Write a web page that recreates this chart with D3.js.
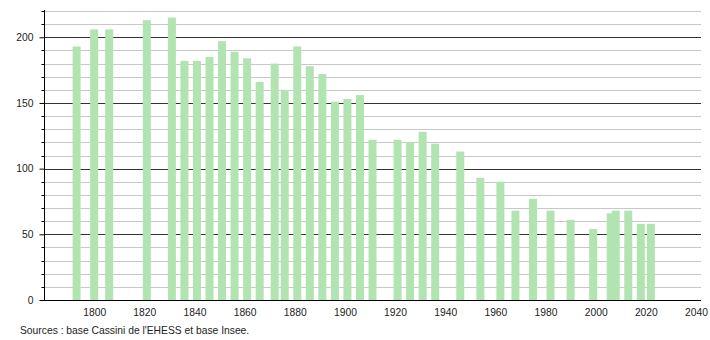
<!DOCTYPE html>
<html>
<head>
<meta charset="utf-8">
<script src="https://cdn.jsdelivr.net/npm/d3@7"></script>
<style>
  body { margin: 0; background: #fff; }
  text { font-family: "Liberation Sans", Arial, sans-serif; }
</style>
</head>
<body>
<div class="canvas"></div>
<script>
// census years and population
const years = [1793, 1800, 1806, 1821, 1831, 1836, 1841, 1846, 1851, 1856,
  1861, 1866, 1872, 1876, 1881, 1886, 1891, 1896, 1901, 1906,
  1911, 1921, 1926, 1931, 1936, 1946, 1954, 1962, 1968, 1975,
  1982, 1990, 1999, 2006, 2008, 2013, 2018, 2022];
const population = [193, 206, 206, 213, 215, 182, 182, 185, 197, 189,
  184, 166, 180, 160, 193, 178, 172, 151, 153, 156,
  122, 122, 120, 128, 119, 113, 93, 90, 68, 77,
  68, 61, 54, 66, 68, 68, 58, 58];
const xTicks = [1800, 1820, 1840, 1860, 1880, 1900, 1920, 1940, 1960, 1980, 2000, 2020, 2040];
const yTicks = [0, 50, 100, 150, 200];
const source = "Sources : base Cassini de l'EHESS et base Insee.";

const svg = d3.select('.canvas')
  .append('svg')
    .attr('width', 710)
    .attr('height', 340);

const plotLeft = 44, plotRight = 701, plotTop = 10, plotBottom = 300;
const fontSize = 10.3;

const x = d3.scaleLinear()
  .domain([1780, 2042])
  .range([plotLeft, plotRight]);
const y = d3.scaleLinear()
  .domain([0, 220])
  .range([plotBottom, plotTop + 1]);

//gridlines every 10, darker every 50
const grid = d3.range(10, 230, 10);
svg.append('g').selectAll('line')
  .data(grid)
  .enter().append('line')
    .attr('x1', plotLeft)
    .attr('x2', plotRight)
    .attr('y1', d => Math.round(y(d)) + 0.5)
    .attr('y2', d => Math.round(y(d)) + 0.5)
    .attr('stroke', d => d % 50 === 0 ? '#333' : '#c8c8c8')
    .attr('stroke-width', 1);

//bars
const barW = 8;
svg.append('g').selectAll('rect')
  .data(years)
  .enter().append('rect')
    .attr('x', d => x(d) - barW / 2)
    .attr('width', barW)
    .attr('y', (d, i) => y(population[i]))
    .attr('height', (d, i) => plotBottom - y(population[i]))
    .attr('fill', '#b2e4b2');

//y axis with minor ticks
const yAxis = d3.axisLeft(y)
  .tickValues(yTicks)
  .tickSize(5)
  .tickPadding(6);
const yAxisGroup = svg.append('g')
  .attr('transform', `translate(${plotLeft + 0.5}, 0)`)
  .call(yAxis);
yAxisGroup.select('.domain')
  .attr('d', `M0,${plotTop}V${plotBottom}`)
  .attr('stroke', '#000');
yAxisGroup.selectAll('.tick line').attr('stroke', '#000');
yAxisGroup.selectAll('.tick text')
  .attr('font-size', fontSize)
  .attr('fill', '#222')
  .style('font-family', '"Liberation Sans", Arial, sans-serif');
yAxisGroup.append('g').selectAll('line')
  .data(grid.filter(d => d % 50 !== 0))
  .enter().append('line')
    .attr('x1', -3)
    .attr('x2', 0)
    .attr('y1', d => Math.round(y(d)) + 0.5)
    .attr('y2', d => Math.round(y(d)) + 0.5)
    .attr('stroke', '#000');

//x axis, no ticks
const xAxis = d3.axisBottom(x)
  .tickValues(xTicks)
  .tickFormat(d3.format('d'))
  .tickSize(0)
  .tickPadding(8);
const xAxisGroup = svg.append('g')
  .attr('transform', `translate(0, ${plotBottom + 0.5})`)
  .call(xAxis);
xAxisGroup.select('.domain')
  .attr('d', `M${plotLeft},0H${plotRight}`)
  .attr('stroke', '#000');
xAxisGroup.selectAll('.tick text')
  .attr('font-size', fontSize)
  .attr('fill', '#222')
  .style('font-family', '"Liberation Sans", Arial, sans-serif');

svg.append('text')
  .attr('x', 20)
  .attr('y', 334)
  .attr('font-size', fontSize)
  .attr('fill', '#222')
  .text(source);
</script>
</body>
</html>
